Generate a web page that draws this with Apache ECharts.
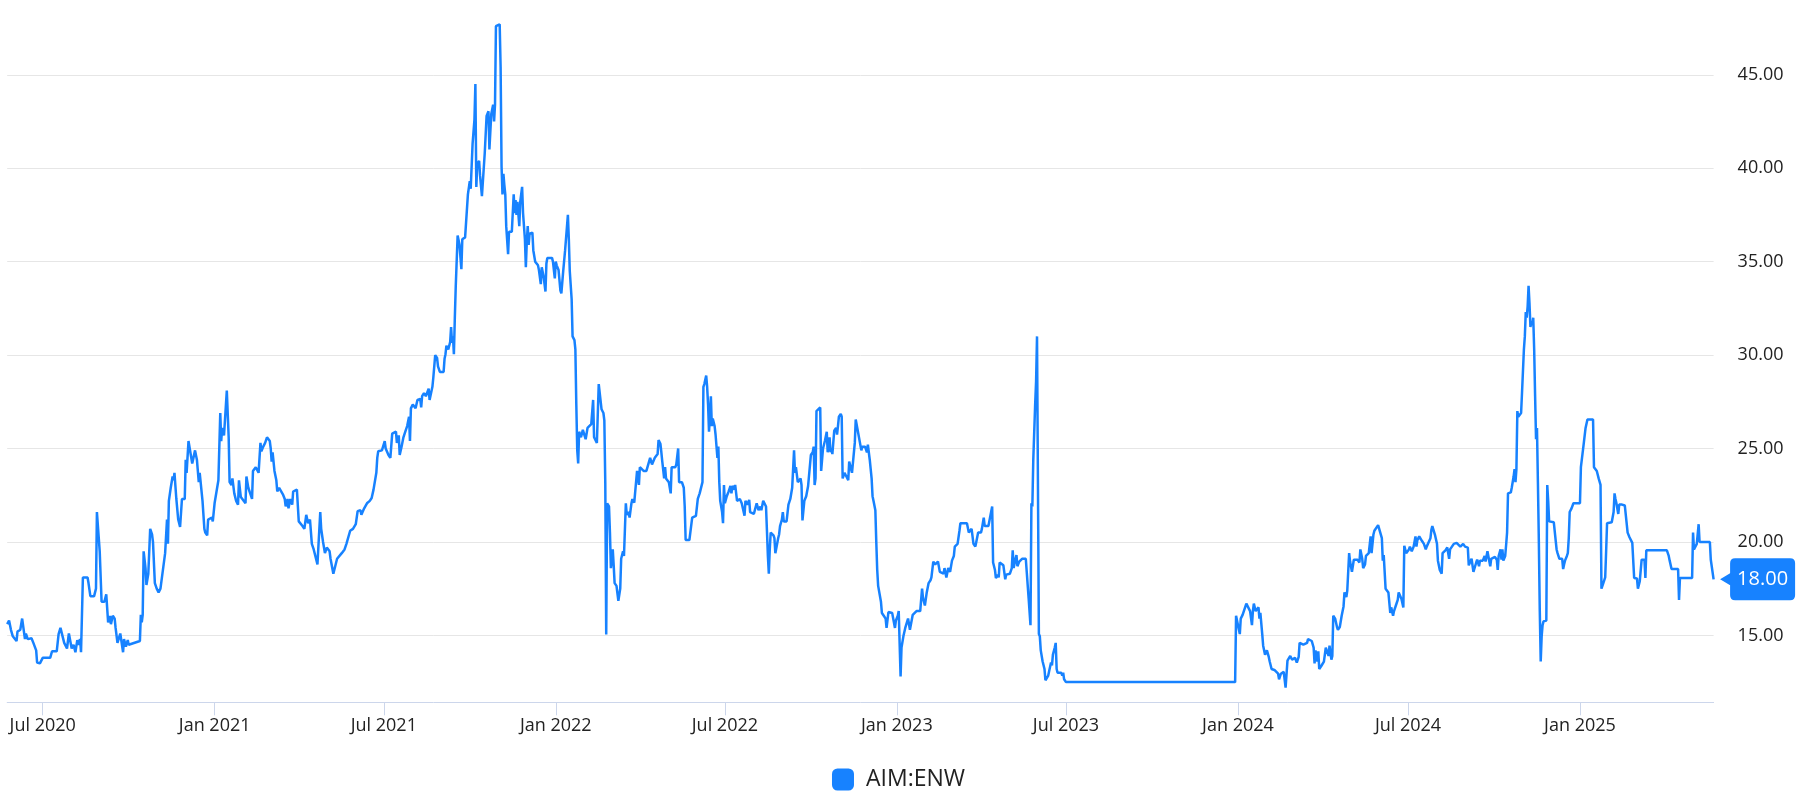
<!DOCTYPE html>
<html><head><meta charset="utf-8">
<script src="https://cdn.jsdelivr.net/npm/echarts@6/dist/echarts.min.js"></script>
<style>html,body{margin:0;padding:0;background:#fff}#c{width:1797px;height:798px}</style>
</head><body><div id="c"></div>
<script>
const seriesName = 'AIM:ENW';
const baseDate = '2020-05-24';
// trading day positions, counted in days after baseDate
const days = [
0,2,4,6,8,10,11,14,16,17, 19,20,22,26,28,31,32,35,38,46, 48,53,55,57,59,61,63,64,66,68, 69,71,73,75,76,78,79,81,86,87,
89,93,95,96,99,101,104,106,108,110, 111,113,115,116,118,121,122,124,125,127, 129,130,132,142,143,144,145,146,148,149,
151,153,155,156,158,160,162,164,166,169, 171,172,173,175,177,178,179,181,183,185, 187,190,191,192,194,196,198,199,201,203,
205,206,207,209,211,212,214,215,219,220, 222,224,226,228,229,230,232,233,235,237, 238,240,241,243,245,247,248,250,253,255,
256,258,260,262,263,266,269,271,272,274, 276,278,281,282,283,284,286,288,289,291, 293,295,297,298,300,301,303,305,306,310, 312,
313,316,318,320,322,324,326,328,330,332, 333,335,336,338,340,342,345,346,348,349, 351,353,355,358,360,361,363,365,367,370,
373,375,376,378,379,382,385,388,390,392, 395,396,397,401,404,405,407,408,410,412, 416,417,419,420,422,424,426,428,430,431,
432,434,436,437,439,442,443,444,446,448, 451,452,455,456,458,460,461,463,467,468, 469,470,472,474,475,476,477,478,479,480,
482,484,486,487,490,492,493,495,496,498, 500,501,502,503,505,506,508,509,511,512, 513,515,516,517,518,520,521,522,523,525,
527,528,529,530,531,532,533,534,536,537, 538,540,542,543,544,545,546,548,549,551, 552,554,555,556,557,558,559,562,563,565,
567,568,569,571,572,574,576,577,578,580, 583,584,586,587,588,590,592,593,595,597, 599,600,601,602,604,605,607,608,609,610,
611,612,614,616,618,619,621,623,625,627, 628,629,631,633,634,
636,638,639,640,641,642,644,645,646,648, 649,650,652,654,656,657,659,660,662,663, 665,666,668,669,671,672,674,676,677,679,
681,683,684,686,688,690,692,693,695,696, 697,699,700,701,703,704,705,707,708,710, 711,713,715,716,718,719,722,724,725,726,
728,730,731,733,735,737,739,741,742,744, 745,746,748,749,750,751,752,753,754,755, 757,758,759,760,761,762,763,765,766,767,
768,770,771,772,774,775,776,778,779,781, 783,784,786,788,789,790,792,794,795,797, 799,800,802,804,806,807,809,810,812,813,
814,815,816,817,819,820,821,822,823,825, 826,827,829,830,831,833,834,836,838,840, 841,842,843,844,846,847,849,850,851,853,
855,856,857,859,860,862,863,864,865,866, 868,870,871,872,873,875,877,878,880,881, 882,883,885,887,888,889,890,892,893,894,
896,897,898,900,901,903,904,906,907,908, 910,911,912,914,915,917,918,920,921,922, 923,925,926,927,929,930,931,932,933,935,
936,938,940,941,943,944,945,947,949,950, 951,953,954,
956,957,959,961,962,964,966,967,969,970, 973,975,977,979,980,982,984,986,988,989, 991,993,995,996,998,1000,1002,1003,1005,1007,
1009,1011,1013,1014,1017,1019,1020,1023,1025,1027, 1029,1030,1032,1034,1036,1037,1039,1042,1043,1045,
1046,1048,1050,1052,1054,1055,1057,1058,1060,1061, 1062,1064,1066,1068,1069,1071,1073,1075,1076,1077,
1079,1080,1081,1083,1085,1086,1087,1090,1091,1093, 1095,1096,1097,1098,1100,1101,1102,1103,1104,1105,
1106,1108,1109,1110,1111,1112,1114,1115,1117,1118, 1119,1121,1122,1123,1124,1126,1128,1129,1130,1131, 1133,1314,
1315,1317,1319,1320,1322,1324,1326,1328,1330,1332, 1333,1334,1336,1337,1339,1340,1341,1343,1344,1346,
1348,1350,1351,1353,1356,1358,1360,1361,1363,1364, 1366,1367,1368,1370,1372,1373,1375,1377,1378,1380,
1382,1383,1385,1387,1389,1391,1392,1394,1396,1398, 1399,1400,1402,1403,1404,1406,1407,1409,1411,1412,
1414,1415,1417,1418,1419,1421,1423,1424,1426,1428, 1430,1431,1433,1434,1436,1437,1439,1441,1443,1445,
1447,1448,1450,1451,1453,1454,1456,1457,1458,1459, 1460,1462,1463,1465,1467,1468,1469,1471,1472,1473,
1475,1476,1478,1480,1481,1483,1484,1486,1488,1489, 1490,1492,1494,1495,1497,1498,1500,1501,1503,1505,
1507,1508,1509,1511,1513,1514,1516,1518,1519,1521, 1523,1524,1525,1527,1528,1530,1531,1533,1535,1536,
1538,1539,1541,1543,1544,1546,1548,1549,1551,1553, 1555,1556,1558,1560,1562,1563,1564,1565,1567,1569,
1570,1572,1573,1575,1576,1578,1579,1581,1582,1584, 1586,1587,1588,1590,1592,1594,1595,1596,
1598,1599,1600,1601,1603,1604,1605,1606,1607,1609, 1610,1612,1613,1614,1615,1616,1617,1619,1620,1621,
1623,1624,1625,1626,1627,1628,1629,1630,1631,1632, 1633,1634,1635,1636,1637,1638,1639,1640,1641,1642,
1643,1644,1646,1647,1648,1649,1650,1652,1655,1657, 1658,1659,1661,1662,1664,1665,1666,1667,1669,1670,
1671,1672,1674,1676,1683,1684,1686,1687,1689,1690, 1691,1697,1698,1700,1701,1703,1704,1705,1706,1707,
1708,1710,1711,1712,1717,1719,1720,1721,1722,1723, 1724,1725,1728,1731,1733,1734,1736,1737,1739,1740,
1741,1744,1745,1746,1747,1749,1752,1753,1754,1776, 1778,1779,1781,1788,1789,1790,1803,1804,1805,1807,
1808,1809,1810,1811,1822,1823,1824,1826
];
const prices = [
15.6,15.8,15.3,14.95,14.95,14.7,15.2,15.3,15.9,15.8, 14.8,15.1,14.8,14.85,14.6,14.2,13.55,13.5,13.8,13.8, 14.15,14.15,15.07,15.4,15.4,14.6,14.6,14.3,15.1,15.1, 14.3,14.5,14.1,14.75,14.5,14.8,14.1,18.1,18.1,17.8,
17.1,17.1,17.5,21.6,19.5,16.8,16.8,17.2,15.7,16.05, 15.6,16.05,15.9,15.4,14.6,15.1,15.1,14.1,14.8,14.4, 14.75,14.5,14.6,14.7,16.1,15.7,16.1,19.5,18.6,17.7,
18.3,20.7,20.4,20.0,17.8,17.5,17.3,17.5,17.6,19.4, 21.2,19.9,22.2,22.9,23.5,23.3,23.7,22.3,21.2,20.8, 22.3,22.3,24.4,23.7,25.4,25.3,24.2,24.1,24.9,24.4,
23.2,23.7,23.8,22.2,20.7,20.5,20.35,21.2,21.3,21.1, 22.1,22.7,23.3,26.9,25.4,26.1,25.7,26.5,28.1,25.6, 23.2,23.05,23.4,22.6,22.2,22.0,23.3,22.4,22.2,22.07,
23.5,22.9,23.0,22.3,23.8,24.0,23.7,25.3,24.85,25.1, 25.3,25.6,25.4,25.0,24.3,24.8,23.8,23.3,22.7,22.9, 22.8,22.55,22.3,21.9,22.3,21.8,22.3,22.0,22.7,22.8, 21.1,
21.2,20.85,20.7,21.45,21.0,21.2,19.9,19.6,19.5,18.8, 18.8,21.6,20.7,20.0,19.4,19.7,19.5,19.1,19.0,18.3, 18.7,19.1,19.2,19.4,19.5,19.6,19.9,20.0,20.6,20.7,
20.95,21.65,21.6,21.7,21.45,21.8,22.07,22.2,22.35,22.8, 23.7,24.5,24.85,24.9,25.4,25.0,24.9,24.65,24.5,25.8, 25.9,25.3,25.7,24.65,25.1,25.6,25.9,26.2,26.7,25.4,
27.15,27.35,27.35,27.15,27.6,27.65,27.2,27.8,27.96,27.8, 28.2,27.6,28.3,28.8,30.0,29.85,29.4,29.1,29.1,29.8, 30.05,30.5,30.3,30.7,31.5,30.65,31.0,30.05,32.0,33.7,
36.4,35.9,34.6,36.2,36.3,36.2,38.6,39.3,38.9,41.3, 42.6,44.5,39.0,40.2,40.4,39.6,38.5,38.6,40.8,41.8, 42.8,43.05,41.0,41.1,42.9,43.4,42.5,43.4,47.6,47.7,
47.7,45.4,40.1,38.6,39.7,39.1,38.6,36.9,35.4,36.6, 36.55,36.6,38.6,37.6,38.3,37.5,38.2,36.9,38.2,39.0, 37.6,36.2,34.7,36.05,36.9,35.9,36.5,36.55,35.6,35.0,
35.1,34.8,34.55,33.8,34.7,34.2,33.4,34.9,35.2,35.3, 35.2,35.0,34.1,35.0,34.8,34.55,33.45,33.3,34.5,35.6, 35.6,37.5,36.2,34.5,33.0,31.0,30.8,30.3,27.35,24.9,
24.2,25.9,25.6,26.0,26.0,25.5,26.1,26.2,26.3,27.6, 25.6,25.5,25.3,28.45,28.4,
27.1,26.9,26.5,23.2,15.05,22.07,21.9,20.5,18.6,19.6, 18.75,17.8,17.65,16.85,17.5,19.1,19.5,19.25,22.07,21.45, 21.6,21.3,22.07,22.3,22.1,22.2,23.8,23.05,24.0,23.9,
23.8,23.7,23.8,24.15,24.5,24.15,24.25,24.5,24.6,24.7, 25.45,25.25,24.8,24.3,23.4,24.0,23.4,23.3,23.2,22.6, 24.0,23.9,24.0,24.15,25.0,23.2,23.2,22.9,21.9,20.1,
20.0,20.1,20.5,21.3,21.4,21.4,22.3,22.6,22.8,23.2, 28.3,28.45,28.9,28.3,27.35,25.9,26.7,27.8,26.2,26.6, 26.2,25.75,25.75,24.5,25.1,23.2,22.2,21.6,21.0,23.05,
22.07,22.45,22.4,22.7,23.0,22.6,23.0,22.8,23.05,22.2, 22.2,22.3,22.07,22.07,21.4,22.2,22.0,22.25,21.6,21.5, 21.5,21.6,22.07,21.7,21.9,21.7,22.2,22.15,21.9,20.6,
19.25,18.3,19.6,20.5,20.6,20.35,20.2,19.4,19.3,20.2, 20.4,20.85,21.2,21.6,21.1,21.2,21.1,22.0,22.3,22.9, 23.9,24.9,23.7,24.0,23.2,23.25,23.4,23.05,21.15,22.2,
22.45,22.45,22.98,22.98,24.65,24.8,25.1,23.05,23.4,27.0, 27.1,27.2,23.8,23.9,25.0,25.4,25.9,24.8,25.6,24.8, 25.0,24.7,25.95,26.1,25.75,26.2,26.7,26.85,26.7,23.4,
23.7,23.6,23.8,23.3,24.3,23.9,23.7,23.8,25.3,26.55, 26.0,25.9,25.95,24.9,25.1,25.2,25.1,24.8,25.2,25.3, 24.4,23.4,22.45,22.2,21.7,20.0,18.5,17.65,17.65,16.8,
16.2,16.05,15.9,15.4,16.25,16.2,16.25,16.2,16.3,15.4, 15.8,16.05,16.3,
12.8,14.35,14.95,15.4,15.45,15.9,15.3,15.25,16.1,16.2, 16.3,16.4,16.3,17.5,17.0,16.6,17.3,17.8,17.95,18.1, 18.95,18.8,18.9,18.95,18.4,18.5,18.3,18.6,18.1,18.6,
18.4,19.0,19.25,19.75,19.9,20.6,21.0,21.0,20.95,21.0, 20.5,20.45,20.7,19.9,19.75,20.0,20.5,20.5,20.7,21.3,
20.85,20.8,20.85,20.8,21.9,18.9,18.5,18.07,18.25,18.1, 18.9,18.8,18.75,18.0,18.25,18.25,18.3,18.6,19.55,18.6,
19.1,19.3,18.7,18.95,19.0,19.1,19.05,19.1,18.4,17.0, 15.55,22.07,21.9,24.4,27.35,28.6,31.0,31.0,15.07,14.95,
14.2,13.6,13.7,13.2,12.6,12.6,12.85,13.1,13.55,13.4, 13.97,14.35,14.6,13.2,13.0,12.95,13.0,12.85,13.0,12.65, 12.5,12.5,
16.05,15.55,15.07,15.9,16.1,16.1,16.7,16.7,16.3,15.55, 16.3,16.7,16.3,16.35,16.5,15.9,16.2,15.07,14.45,13.97,
14.2,13.85,13.6,13.2,13.15,13.05,12.95,12.65,12.95,12.9, 13.05,13.1,12.2,13.65,13.7,13.9,13.7,13.65,13.8,13.55,
13.85,14.6,14.55,14.5,14.5,14.6,14.8,14.85,14.7,14.35, 13.5,14.2,13.6,14.15,13.2,13.35,13.45,13.6,14.35,14.45,
13.9,14.45,13.7,13.9,16.05,15.9,15.45,15.3,15.45,16.05, 16.55,17.3,17.05,17.4,19.4,18.95,18.4,19.05,18.95,19.05,
18.9,19.6,19.1,18.6,18.8,19.25,19.25,19.4,19.3,20.3, 19.4,20.4,20.6,20.7,20.9,20.85,20.9,20.2,19.0,19.3,
17.5,17.55,17.3,16.2,16.5,16.05,16.3,16.6,16.9,17.3, 17.2,16.95,16.5,19.8,19.4,19.5,19.6,19.75,19.5,19.75,
20.3,19.75,20.1,20.3,20.2,20.05,19.9,19.6,19.75,19.85, 20.2,20.65,20.85,20.9,20.35,19.9,19.0,18.5,18.3,19.4,
19.5,19.55,19.7,19.1,19.6,19.75,19.9,19.95,19.95,19.9, 19.75,19.7,19.9,19.75,19.8,19.7,18.75,18.65,19.1,18.4,
18.3,18.9,19.05,18.7,19.0,18.9,19.0,19.25,18.95,19.5, 19.5,18.7,19.1,19.1,19.2,19.05,18.5,19.25,
19.6,19.05,19.6,19.0,19.25,19.85,20.5,22.6,22.7,22.65, 22.9,23.5,23.9,23.2,23.9,27.0,26.7,26.7,26.9,28.0,
30.3,31.0,32.3,32.0,32.6,33.7,32.75,31.5,31.8,31.6, 32.0,30.3,27.8,25.5,26.1,23.2,20.0,16.3,13.6,14.95,
15.55,15.75,15.75,15.8,23.05,22.2,21.1,21.05,21.05,21.0, 19.6,19.4,19.1,19.05,19.1,18.55,18.8,19.0,19.25,19.4,
20.2,21.6,21.8,22.07,22.07,24.0,24.1,25.25,26.1,26.0, 26.55,26.55,24.0,23.95,23.8,23.4,23.5,23.05,17.5,17.55,
17.8,18.1,19.5,21.0,21.05,21.6,22.6,22.3,22.07,22.0, 21.5,22.0,22.0,21.95,22.0,20.5,20.25,20.2,19.95,19.95,
18.07,18.05,17.5,17.55,17.9,19.05,19.05,18.07,19.55,19.55, 19.25,19.0,18.55,18.55,16.9,18.07,18.07,20.5,19.6,19.6,
19.9,20.0,20.95,20.0,20.0,19.05,19.0,18.0
];
const tickDates = ['2020-07-01','2021-01-01','2021-07-01','2022-01-01','2022-07-01','2023-01-01','2023-07-01','2024-01-01','2024-07-01','2025-01-01'];
const tickLabels = ['Jul 2020','Jan 2021','Jul 2021','Jan 2022','Jul 2022','Jan 2023','Jul 2023','Jan 2024','Jul 2024','Jan 2025'];
const yMin = 11.42, yMax = 49;
const lastPrice = 18.00;

if (days.length !== prices.length) console.error('length mismatch', days.length, prices.length);

const DAY = 86400000;
function ts(s){ const p = s.split('-').map(Number); return Date.UTC(p[0], p[1]-1, p[2]); }
const base = ts(baseDate);
const data = days.map((d, i) => [base + d * DAY, prices[i]]);
const tickTs = tickDates.map(ts);
const blue = '#1782ff';
const axisGrey = '#ccd6eb';
const textCol = '#222222';

const chart = echarts.init(document.getElementById('c'), null, {renderer: 'canvas'});
chart.setOption({
  animation: false,
  backgroundColor: '#ffffff',
  textStyle: { fontFamily: "'Open Sans', 'Noto Sans', sans-serif" },
  grid: { left: 7.2, right: 83.4, top: 0, bottom: 95.7, outerBoundsMode: 'none', containLabel: false },
  legend: {
    data: [{ name: seriesName, icon: 'roundRect' }],
    left: 'center', top: 768, itemWidth: 22, itemHeight: 22, padding: 0,
    textStyle: { fontSize: 23, color: textCol, padding: [0, 0, 0, 7] }
  },
  xAxis: {
    type: 'value',
    min: data[0][0], max: data[data.length - 1][0],
    axisLine: { lineStyle: { color: axisGrey, width: 1 } },
    axisTick: { show: true, length: 13, lineStyle: { color: axisGrey, width: 1 }, customValues: tickTs },
    axisLabel: {
      customValues: tickTs, fontSize: 18, color: textCol, margin: 15,
      showMinLabel: true, showMaxLabel: true, hideOverlap: false,
      formatter: function (v) {
        for (let i = 0; i < tickTs.length; i++) if (Math.abs(v - tickTs[i]) < DAY) return tickLabels[i];
        return '';
      }
    },
    splitLine: { show: false }
  },
  yAxis: {
    type: 'value', position: 'right', min: yMin, max: yMax, splitNumber: 7,
    axisLine: { show: false }, axisTick: { show: false },
    axisLabel: { formatter: v => v.toFixed(2), fontSize: 18, color: textCol, margin: 24, align: 'left', showMinLabel: false, showMaxLabel: false },
    splitLine: { lineStyle: { color: '#e6e6e6', width: 1 }, showMinLine: false, showMaxLine: false }
  },
  series: [{
    type: 'line', name: seriesName, data: data,
    showSymbol: false, symbol: 'none',
    lineStyle: { color: blue, width: 2.5 }, itemStyle: { color: blue },
    markPoint: {
      silent: true,
      symbol: 'path://M15,0 L70,0 Q75,0 75,5 L75,37 Q75,42 70,42 L15,42 Q10,42 10,37 L10,27 L0,21 L10,15 L10,5 Q10,0 15,0 Z',
      symbolSize: [75, 42], symbolOffset: [44, 0], symbolKeepAspect: false,
      itemStyle: { color: blue },
      label: { show: true, position: 'inside', formatter: lastPrice.toFixed(2), color: '#ffffff', fontSize: 20, offset: [5, 0] },
      data: [{ coord: [data[data.length - 1][0], lastPrice], value: lastPrice }]
    }
  }]
});
</script></body></html>
